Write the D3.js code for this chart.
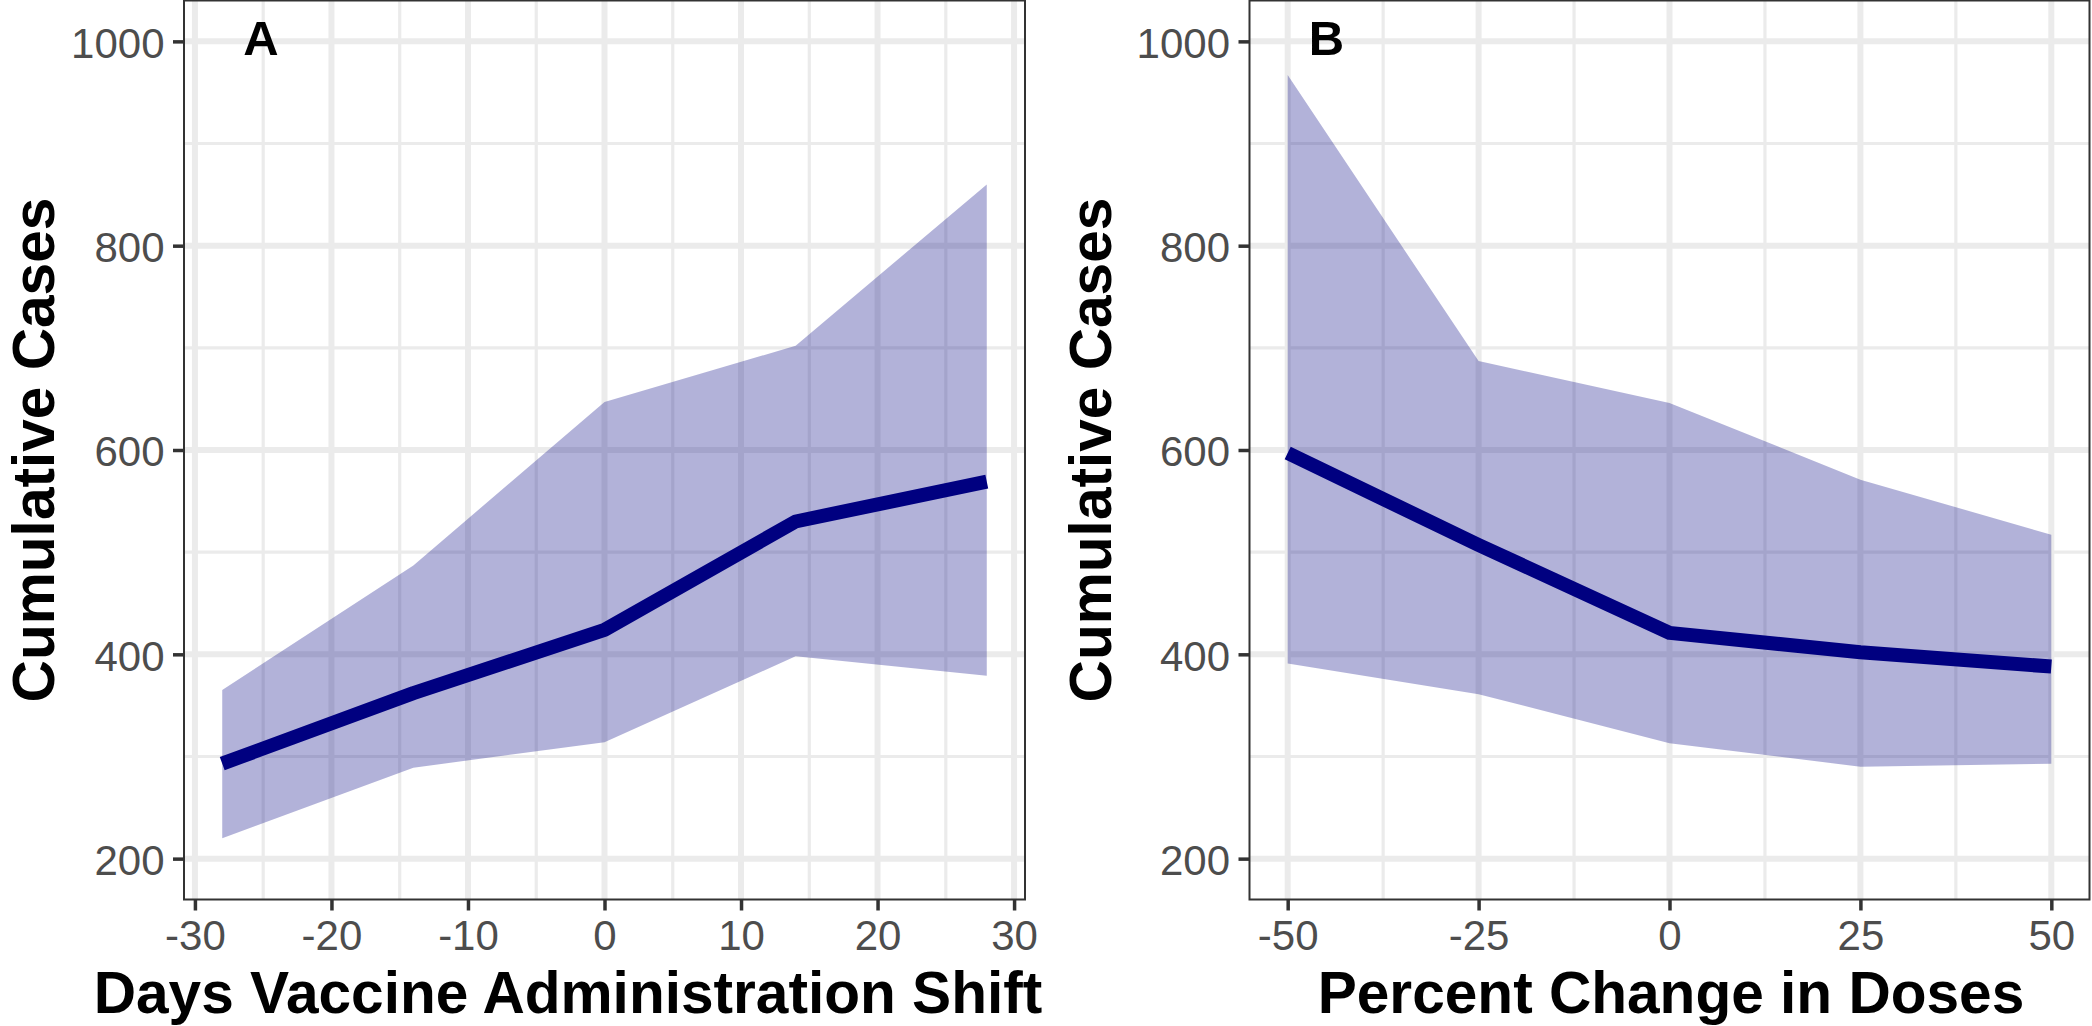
<!DOCTYPE html>
<html>
<head>
<meta charset="utf-8">
<script src="https://cdn.jsdelivr.net/npm/d3@7"></script>
<style>
  html, body { margin: 0; padding: 0; background: #ffffff; }
  svg { display: block; }
  text { font-family: 'Liberation Sans', Arial, sans-serif; }
</style>
</head>
<body>
<svg id="chart" width="2092" height="1026"></svg>
<script>
// ---- Data ----
const daysShift = [-28, -14, 0, 14, 28];
const daysMean  = [293, 362, 424, 530, 569];
const daysLower = [220, 289, 314, 398, 379];
const daysUpper = [365, 487, 647, 702, 860];

const pctChange = [-50, -25, 0, 25, 50];
const pctMean   = [597, 507, 421, 402, 388];
const pctLower  = [391, 361, 313, 290, 293];
const pctUpper  = [967, 687, 646, 571, 517];

const yTicks = [200, 400, 600, 800, 1000];
const yMinor = [300, 500, 700, 900];
const daysTicks = [-30, -20, -10, 0, 10, 20, 30];
const daysMinor = [-25, -15, -5, 5, 15, 25];
const pctTicks = [-50, -25, 0, 25, 50];
const pctMinor = [-37.5, -12.5, 12.5, 37.5];

const yTitle = "Cumulative Cases";
const panels = [
  { tag: "A", xTitle: "Days Vaccine Administration Shift",
    x: daysShift, mean: daysMean, lower: daysLower, upper: daysUpper,
    xDomain: [-30.8, 30.8], xRange: [184, 1025], xTicks: daysTicks, xMinor: daysMinor,
    xTitleX: 568, yTitleX: 54 },
  { tag: "B", xTitle: "Percent Change in Doses",
    x: pctChange, mean: pctMean, lower: pctLower, upper: pctUpper,
    xDomain: [-55, 55], xRange: [1249.5, 2089.5], xTicks: pctTicks, xMinor: pctMinor,
    xTitleX: 1671, yTitleX: 1111 }
];

const svg = d3.select("#chart");
const TOP = 0.5, BOTTOM = 899.5;
const y = d3.scaleLinear().domain([160, 1040]).range([BOTTOM, TOP]);

const GRID = "#EBEBEB", INK = "#333333", LABEL = "#4D4D4D", FILL = "#000080";

panels.forEach(p => {
  const x = d3.scaleLinear().domain(p.xDomain).range(p.xRange);
  const [L, R] = p.xRange;
  const g = svg.append("g");

  // background
  g.append("rect").attr("x", L).attr("y", TOP).attr("width", R - L).attr("height", BOTTOM - TOP).attr("fill", "#fff");

  // minor grid
  g.selectAll(".vmin").data(p.xMinor).join("line")
    .attr("x1", d => x(d)).attr("x2", d => x(d)).attr("y1", TOP).attr("y2", BOTTOM)
    .attr("stroke", GRID).attr("stroke-width", 3.2);
  g.selectAll(".hmin").data(yMinor).join("line")
    .attr("x1", L).attr("x2", R).attr("y1", d => y(d)).attr("y2", d => y(d))
    .attr("stroke", GRID).attr("stroke-width", 3.2);
  // major grid
  g.selectAll(".vmaj").data(p.xTicks).join("line")
    .attr("x1", d => x(d)).attr("x2", d => x(d)).attr("y1", TOP).attr("y2", BOTTOM)
    .attr("stroke", GRID).attr("stroke-width", 6);
  g.selectAll(".hmaj").data(yTicks).join("line")
    .attr("x1", L).attr("x2", R).attr("y1", d => y(d)).attr("y2", d => y(d))
    .attr("stroke", GRID).attr("stroke-width", 6);

  const rows = p.x.map((v, i) => ({ x: v, m: p.mean[i], lo: p.lower[i], hi: p.upper[i] }));

  // ribbon
  const area = d3.area().x(d => x(d.x)).y0(d => y(d.lo)).y1(d => y(d.hi));
  g.append("path").datum(rows).attr("d", area).attr("fill", FILL).attr("fill-opacity", 0.3);

  // line
  const line = d3.line().x(d => x(d.x)).y(d => y(d.m));
  g.append("path").datum(rows).attr("d", line)
    .attr("fill", "none").attr("stroke", FILL).attr("stroke-width", 14)
    .attr("stroke-linecap", "butt").attr("stroke-linejoin", "round");

  // panel border
  g.append("rect").attr("x", L).attr("y", TOP).attr("width", R - L).attr("height", BOTTOM - TOP)
    .attr("fill", "none").attr("stroke", INK).attr("stroke-width", 2);

  // y axis
  const ya = g.append("g").attr("transform", `translate(${L},0)`)
    .call(d3.axisLeft(y).tickValues(yTicks).tickFormat(d => String(d)).tickSize(11).tickPadding(8.5));
  ya.select(".domain").remove();
  ya.selectAll(".tick line").attr("stroke", INK).attr("stroke-width", 3.5);
  ya.selectAll(".tick text").attr("fill", LABEL).attr("font-size", 42)
    .attr("font-family", "'Liberation Sans', Arial, sans-serif").attr("dy", "0.38em");

  // x axis
  const xa = g.append("g").attr("transform", `translate(0,${BOTTOM})`)
    .call(d3.axisBottom(x).tickValues(p.xTicks).tickFormat(d => String(d)).tickSize(11).tickPadding(8));
  xa.select(".domain").remove();
  xa.selectAll(".tick line").attr("stroke", INK).attr("stroke-width", 3.5);
  xa.selectAll(".tick text").attr("fill", LABEL).attr("font-size", 42)
    .attr("font-family", "'Liberation Sans', Arial, sans-serif").attr("y", 50.5).attr("dy", 0);

  // axis titles
  g.append("text").attr("x", p.xTitleX).attr("y", 1013).attr("text-anchor", "middle")
    .attr("font-size", 58.6).attr("font-weight", "bold").attr("fill", "#000").text(p.xTitle);
  g.append("text").attr("transform", `translate(${p.yTitleX},450) rotate(-90)`)
    .attr("text-anchor", "middle")
    .attr("font-size", 58.6).attr("font-weight", "bold").attr("fill", "#000").text(yTitle);

  // panel tag
  g.append("text").attr("x", L + 77).attr("y", 55).attr("text-anchor", "middle")
    .attr("font-size", 49).attr("font-weight", "bold").attr("fill", "#000").text(p.tag);
});
</script>
</body>
</html>
